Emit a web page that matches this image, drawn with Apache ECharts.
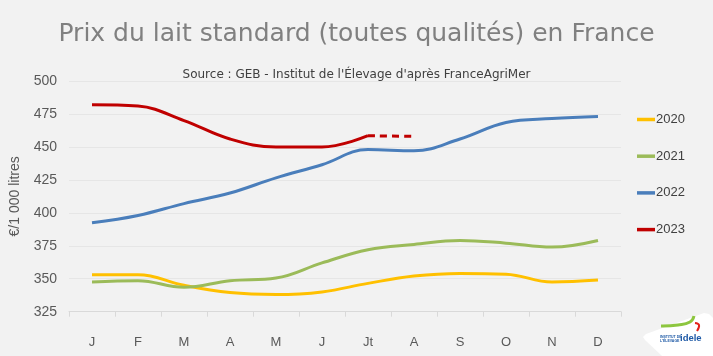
<!DOCTYPE html>
<html>
<head>
<meta charset="utf-8">
<script src="https://cdn.jsdelivr.net/npm/echarts@6/dist/echarts.min.js"></script>
<style>
html,body{margin:0;padding:0;background:#f2f2f2;}
#c{width:713px;height:356px;}
</style>
</head>
<body>
<div id="c"></div>
<script>
var months = ['J','F','M','A','M','J','Jt','A','S','O','N','D'];
var yTicks = [325, 500, 25];
var p2020 = [353, 353, 345, 339.5, 338, 340, 346.5, 352, 354, 353.5, 347.5, 349];
var p2021 = [347.5, 348.5, 343.5, 348.5, 350.5, 362, 372, 376, 379, 377, 374, 379];
var p2022 = [392.5, 398, 407, 415, 426.5, 436.5, 448, 447, 456, 468.5, 471.5, 473];
var p2023 = [482, 481, 470, 456, 450, 450, 458.5, 458];
var lastDefinitive2023 = 6; // index of "Jt": later months are provisional (dashed)

var colors = {'2020':'#FFC000','2021':'#9BBB59','2022':'#4A7EBB','2023':'#C00000'};

var solid2023 = p2023.map(function(v,i){return i<=lastDefinitive2023 ? v : '-';});
var dashed2023 = p2023.map(function(v,i){return i>=lastDefinitive2023 ? v : '-';});

function mk(name, data, color, dashed){
  return {
    name: name, type:'line', data:data, smooth:0.4, symbol:'none',
    lineStyle:{color:color, width:3, type: dashed ? [7,5] : 'solid'},
    itemStyle:{color:color}, silent:true
  };
}

var chart = echarts.init(document.getElementById('c'));
chart.setOption({
  backgroundColor:'#f2f2f2',
  animation:false,
  title:[{
    text:'Prix du lait standard (toutes qualités) en France',
    left:'center', top:17,
    textStyle:{fontFamily:'DejaVu Sans', fontSize:25, fontWeight:'normal', color:'#808080'}
  },{
    text:"Source : GEB - Institut de l'Élevage d'après FranceAgriMer",
    left:'center', top:64,
    textStyle:{fontFamily:'DejaVu Sans', fontSize:12, fontWeight:'normal', color:'#404040'}
  }],
  grid:{left:69, right:92, top:81, bottom:44.3},
  legend:{
    data:['2020','2021','2022','2023'],
    orient:'vertical', left:632, top:108, itemGap:23.7,
    icon:'rect', itemWidth:18, itemHeight:3.5,
    textStyle:{fontFamily:'Liberation Sans', fontSize:13, color:'#404040', padding:[0,0,0,-4]}
  },
  xAxis:{
    type:'category', data:months, boundaryGap:true,
    axisLine:{lineStyle:{color:'#d9d9d9', width:1}},
    axisTick:{show:true, length:5, lineStyle:{color:'#d9d9d9'}},
    axisLabel:{margin:24, fontFamily:'Liberation Sans', fontSize:13, color:'#595959'}
  },
  yAxis:{
    type:'value', min:yTicks[0], max:yTicks[1], interval:yTicks[2],
    name:'€/1 000 litres', nameLocation:'middle', nameGap:47, nameRotate:90,
    nameTextStyle:{fontFamily:'Liberation Sans', fontSize:14, color:'#595959'},
    axisLine:{show:false}, axisTick:{show:false},
    axisLabel:{margin:12, fontFamily:'Liberation Sans', fontSize:14, color:'#595959'},
    splitLine:{lineStyle:{color:'#e6e6e6', width:1}}
  },
  series:[
    mk('2020', p2020, colors['2020']),
    mk('2021', p2021, colors['2021']),
    mk('2022', p2022, colors['2022']),
    mk('2023', solid2023, colors['2023']),
    mk('2023 prov.', dashed2023, colors['2023'], true)
  ],
  graphic:[
    {type:'polygon', shape:{points:[[643,337],[646,334],[704,313],[709,314],[713,318],[713,356],[662,356],[645,340]]},
     style:{fill:'#ffffff'}, silent:true},
    {type:'polyline', shape:{points:[[661,326],[678,325],[690,322],[694,316]], smooth:0.5},
     style:{stroke:'#8dc63f', lineWidth:3, fill:null}, silent:true},
    {type:'polyline', shape:{points:[[695,323],[699,325],[697,331]], smooth:0.5},
     style:{stroke:'#e2231a', lineWidth:2, fill:null}, silent:true},
    {type:'text', left:680, top:333, style:{text:'idele', fontFamily:'Liberation Sans', fontWeight:'bold', fontSize:9.5, fill:'#1f5aa6'}},
    {type:'text', left:660, top:335, style:{text:'INSTITUT DE\nL\'ÉLEVAGE', fontFamily:'Liberation Sans', fontWeight:'bold', fontSize:3.5, fill:'#1f5aa6'}}
  ]
});
</script>
</body>
</html>
